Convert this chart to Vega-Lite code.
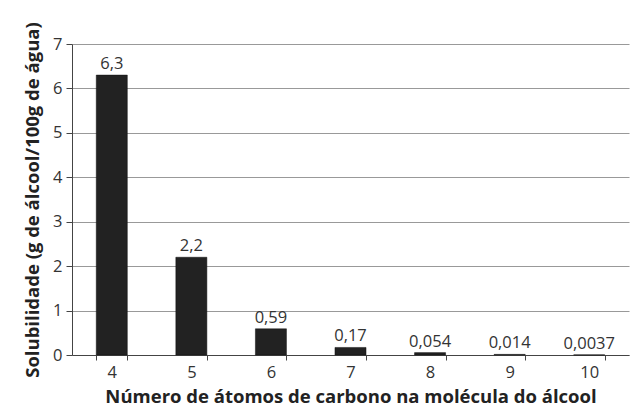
{
  "$schema": "https://vega.github.io/schema/vega-lite/v6.json",
  "width": 557,
  "height": 311,
  "autosize": {"type": "none"},
  "padding": {"left": 72, "top": 44, "right": 1, "bottom": 57},
  "background": "white",
  "config": {
    "view": {"stroke": null},
    "font": "Open Sans",
    "axis": {"labelFont": "Open Sans", "titleFont": "Open Sans", "labelColor": "#333", "titleColor": "#222"}
  },
  "data": {
    "values": [
      {"carbonos": "4", "sol": 6.3, "rotulo": "6,3"},
      {"carbonos": "5", "sol": 2.2, "rotulo": "2,2"},
      {"carbonos": "6", "sol": 0.59, "rotulo": "0,59"},
      {"carbonos": "7", "sol": 0.17, "rotulo": "0,17"},
      {"carbonos": "8", "sol": 0.054, "rotulo": "0,054"},
      {"carbonos": "9", "sol": 0.014, "rotulo": "0,014"},
      {"carbonos": "10", "sol": 0.0037, "rotulo": "0,0037"}
    ]
  },
  "encoding": {
    "x": {
      "field": "carbonos",
      "type": "ordinal",
      "sort": null,
      "scale": {"paddingInner": 0.61, "paddingOuter": 0.305},
      "axis": {
        "title": "Número de átomos de carbono na molécula do álcool",
        "titleFontSize": 18.5,
        "titleFontWeight": "bold",
        "titlePadding": 7,
        "labelAngle": 0,
        "labelFontSize": 16.5,
        "labelPadding": 4,
        "domainColor": "#444",
        "tickColor": "#444",
        "tickBand": "extent",
        "tickSize": 5,
        "grid": false
      }
    },
    "y": {
      "field": "sol",
      "type": "quantitative",
      "scale": {"domain": [0, 7]},
      "axis": {
        "title": "Solubilidade (g de álcool/100g de água)",
        "titleFontSize": 18.5,
        "titleFontWeight": "bold",
        "titlePadding": 10,
        "values": [0, 1, 2, 3, 4, 5, 6, 7],
        "labelFontSize": 16.5,
        "labelPadding": 4,
        "tickSize": 6,
        "domainColor": "#444",
        "tickColor": "#444",
        "gridColor": "#999",
        "gridWidth": 1
      }
    }
  },
  "layer": [
    {"mark": {"type": "bar", "color": "#222", "stroke": "#111", "strokeWidth": 0.5}},
    {
      "mark": {"type": "text", "baseline": "bottom", "dy": -3, "fontSize": 16.5, "color": "#333"},
      "encoding": {"text": {"field": "rotulo"}}
    }
  ]
}
